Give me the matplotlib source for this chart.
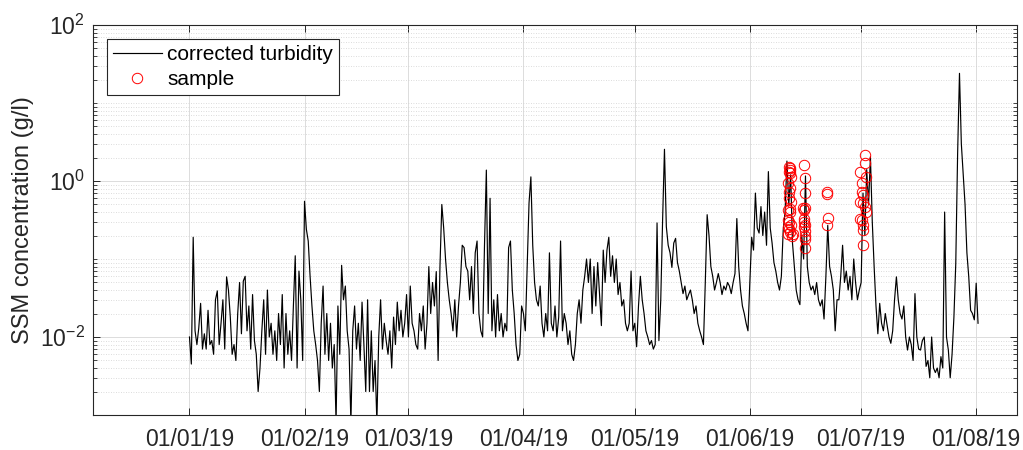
import numpy as np
import pandas as pd
import matplotlib
matplotlib.use('Agg')
import matplotlib.pyplot as plt
import matplotlib.dates as mdates
from matplotlib.ticker import LogLocator, NullFormatter
from datetime import datetime

# Serie de turbidez corregida (g/l), un valor cada 12 h desde el 01/01/19
inicio = datetime(2019, 1, 1)
turbidez = [
    0.010, 0.0045, 0.19, 0.012, 0.008, 0.013, 0.027, 0.007, 0.011, 0.007,
    0.022, 0.008, 0.009, 0.006, 0.030, 0.039, 0.008, 0.015, 0.030, 0.007,
    0.059, 0.040, 0.018, 0.006, 0.008, 0.005, 0.020, 0.050, 0.011, 0.052,
    0.060, 0.012, 0.025, 0.007, 0.035, 0.009, 0.006, 0.002, 0.004, 0.012,
    0.030, 0.006, 0.040, 0.010, 0.015, 0.006, 0.012, 0.005, 0.020, 0.008,
    0.035, 0.004, 0.020, 0.006, 0.012, 0.005, 0.025, 0.110, 0.004, 0.070,
    0.030, 0.005, 0.550, 0.240, 0.170, 0.060, 0.025, 0.012, 0.008, 0.005,
    0.002, 0.015, 0.045, 0.006, 0.020, 0.005, 0.015, 0.004, 0.008, 0.0008,
    0.025, 0.006, 0.083, 0.030, 0.045, 0.012, 0.007, 0.0008, 0.012, 0.025,
    0.007, 0.015, 0.005, 0.028, 0.008, 0.002, 0.030, 0.002, 0.012, 0.002,
    0.005, 0.0008, 0.010, 0.030, 0.007, 0.015, 0.009, 0.006, 0.012, 0.004,
    0.018, 0.008, 0.028, 0.012, 0.022, 0.010, 0.015, 0.035, 0.010, 0.045,
    0.015, 0.012, 0.008, 0.007, 0.020, 0.012, 0.025, 0.007, 0.015, 0.080,
    0.020, 0.050, 0.025, 0.069, 0.005, 0.080, 0.500, 0.250, 0.100, 0.050,
    0.030, 0.020, 0.012, 0.030, 0.010, 0.025, 0.050, 0.150, 0.140, 0.080,
    0.070, 0.030, 0.080, 0.020, 0.120, 0.170, 0.020, 0.012, 0.010, 0.150,
    1.380, 0.020, 0.600, 0.012, 0.030, 0.010, 0.035, 0.012, 0.020, 0.010,
    0.015, 0.012, 0.140, 0.170, 0.040, 0.020, 0.008, 0.005, 0.006, 0.025,
    0.020, 0.012, 0.080, 0.520, 1.130, 0.150, 0.050, 0.030, 0.025, 0.045,
    0.015, 0.010, 0.020, 0.012, 0.120, 0.015, 0.012, 0.025, 0.010, 0.018,
    0.170, 0.012, 0.020, 0.015, 0.008, 0.012, 0.006, 0.005, 0.008, 0.020,
    0.030, 0.015, 0.040, 0.060, 0.100, 0.050, 0.100, 0.020, 0.080, 0.025,
    0.090, 0.035, 0.014, 0.130, 0.050, 0.130, 0.190, 0.060, 0.110, 0.050,
    0.100, 0.035, 0.050, 0.025, 0.030, 0.015, 0.012, 0.015, 0.070, 0.012,
    0.015, 0.0075, 0.025, 0.060, 0.030, 0.020, 0.012, 0.010, 0.008, 0.009,
    0.007, 0.008, 0.290, 0.009, 0.030, 0.320, 2.550, 0.260, 0.150, 0.120,
    0.078, 0.160, 0.184, 0.090, 0.070, 0.050, 0.036, 0.045, 0.030, 0.035,
    0.040, 0.030, 0.020, 0.025, 0.015, 0.012, 0.010, 0.008, 0.050, 0.370,
    0.200, 0.080, 0.060, 0.040, 0.050, 0.065, 0.050, 0.035, 0.045, 0.040,
    0.050, 0.045, 0.036, 0.050, 0.065, 0.330, 0.080, 0.040, 0.025, 0.020,
    0.015, 0.012, 0.050, 0.190, 0.130, 0.700, 0.250, 0.215, 0.470, 0.200,
    0.400, 0.150, 1.320, 0.250, 0.160, 0.090, 0.070, 0.050, 0.040, 0.060,
    0.235, 0.400, 1.800, 0.500, 1.200, 0.160, 0.080, 0.040, 0.030, 0.026,
    0.200, 0.100, 1.160, 0.080, 0.050, 0.040, 0.045, 0.035, 0.050, 0.030,
    0.025, 0.030, 0.017, 0.060, 0.270, 0.080, 0.060, 0.040, 0.012, 0.030,
    0.030, 0.060, 0.150, 0.050, 0.070, 0.040, 0.060, 0.030, 0.100, 0.050,
    0.030, 0.040, 0.050, 0.700, 0.200, 1.400, 0.500, 2.050, 0.300, 0.080,
    0.025, 0.011, 0.027, 0.015, 0.012, 0.020, 0.014, 0.010, 0.0083, 0.012,
    0.030, 0.059, 0.030, 0.020, 0.017, 0.025, 0.010, 0.0068, 0.010, 0.008,
    0.005, 0.036, 0.010, 0.007, 0.0068, 0.009, 0.010, 0.0042, 0.005, 0.003,
    0.010, 0.004, 0.0035, 0.004, 0.003, 0.0056, 0.004, 0.400, 0.010, 0.0068,
    0.003, 0.006, 0.018, 0.088, 2.260, 24.00, 3.000, 1.200, 0.500, 0.120,
    0.059, 0.022, 0.020, 0.0166, 0.049, 0.015,
]

# Muestras (dias desde el 01/01/19 y concentracion en g/l)
dias_muestra = [
    161.5, 161.7, 161.9, 161.6, 161.8, 162.0, 161.4, 161.8, 161.6, 161.5,
    162.0, 161.3, 161.7, 161.9, 161.2, 161.5, 162.1, 161.4, 161.6, 161.9,
    162.3, 161.2, 162.6,
    165.5, 165.8, 165.8, 165.3, 165.6, 165.9, 165.7, 165.5, 165.9, 165.6,
    165.8, 165.9, 166.0, 165.9,
    171.9, 171.9, 172.0, 171.9,
    182.0, 182.0, 180.7, 182.4, 181.1, 181.1, 181.5, 180.7, 181.5, 182.0,
    182.4, 180.7, 181.3, 181.5, 181.5, 181.5,
]
ssm_muestra = [
    1.52, 1.45, 1.38, 1.30, 1.26, 1.14, 0.93, 0.82, 0.73, 0.60,
    0.54, 0.42, 0.40, 0.44, 0.32, 0.30, 0.27, 0.26, 0.24, 0.22,
    0.20, 0.21, 0.21,
    1.60, 1.10, 0.71, 0.45, 0.42, 0.45, 0.33, 0.30, 0.27, 0.26,
    0.23, 0.20, 0.18, 0.137,
    0.715, 0.675, 0.34, 0.27,
    2.15, 1.69, 1.32, 1.14, 0.93, 0.73, 0.66, 0.54, 0.52, 0.47,
    0.40, 0.33, 0.316, 0.27, 0.235, 0.15,
]

tiempo = pd.date_range(inicio, periods=len(turbidez), freq='12h')
t_muestra = pd.Timestamp(inicio) + pd.to_timedelta(dias_muestra, unit='D')

plt.rcParams['font.family'] = ['Liberation Sans', 'DejaVu Sans']
plt.rcParams['mathtext.fontset'] = 'custom'
plt.rcParams['mathtext.rm'] = 'Liberation Sans'
gris = '#262626'

fig = plt.figure(figsize=(10.23, 4.5), dpi=100)
ax = fig.add_axes([93 / 1023, 1 - 415 / 450, 924 / 1023, 390 / 450])

ax.plot(tiempo, turbidez, color='k', lw=0.85, label='corrected turbidity')
ax.plot(t_muestra, ssm_muestra, 'o', mfc='none', mec='red', ms=7.5,
        mew=0.7, label='sample')

# Escala logaritmica y limites
ax.set_yscale('log')
ax.set_ylim(1e-3, 1e2)
ax.set_xlim(datetime(2018, 12, 6), datetime(2019, 8, 12))
ax.set_yticks([1e-2, 1e0, 1e2])
ax.yaxis.set_minor_locator(LogLocator(base=10, subs=np.arange(1, 10), numticks=20))
ax.yaxis.set_minor_formatter(NullFormatter())
ax.xaxis.set_major_locator(mdates.MonthLocator())
ax.xaxis.set_major_formatter(mdates.DateFormatter('%d/%m/%y'))

# Rejilla estilo MATLAB
ax.grid(True, which='major', color='#dcdcdc', lw=0.7)
ax.grid(True, which='minor', axis='y', color='#d0d0d0', lw=0.6, ls=(0, (1, 2)))
ax.set_axisbelow(True)

ax.tick_params(which='both', direction='in', top=True, right=True,
               colors=gris, labelsize=16.5)
ax.tick_params(which='major', length=5, width=0.7)
ax.tick_params(which='minor', length=3, width=0.6)
ax.tick_params(axis='x', pad=9)
ax.tick_params(axis='y', pad=6)
for s in ax.spines.values():
    s.set_color(gris)
    s.set_linewidth(0.8)

ax.set_ylabel('SSM concentration (g/l)', fontsize=17, color=gris)

ley = ax.legend(loc='upper left', fontsize=15, fancybox=False,
                edgecolor=gris, framealpha=1, borderaxespad=0.65,
                borderpad=0.3, handlelength=2.35, handletextpad=0.25,
                labelspacing=0.3, numpoints=1)
ley.get_frame().set_linewidth(0.8)

fig.savefig('out.png', dpi=100)
